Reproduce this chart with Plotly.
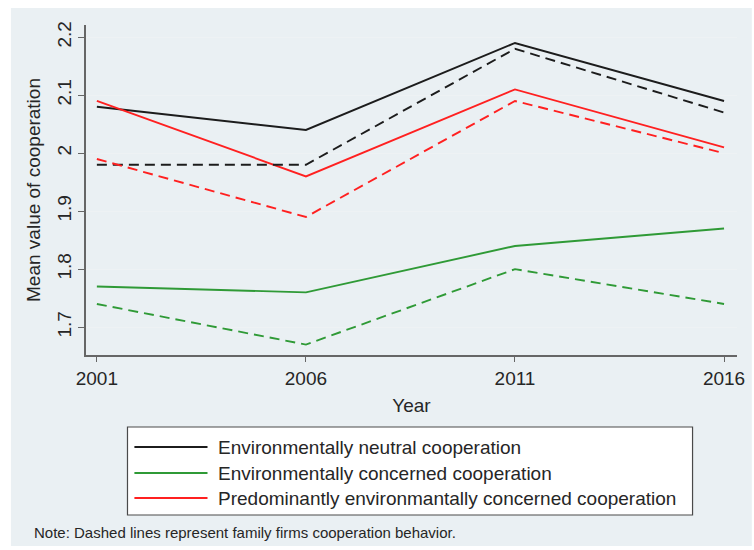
import plotly.graph_objects as go

# Survey waves
years = [2001, 2006, 2011, 2016]

# Mean value of cooperation, all firms (solid) and family firms (dashed)
neutral_all = [2.08, 2.04, 2.19, 2.09]
neutral_family = [1.98, 1.98, 2.18, 2.07]
concerned_all = [1.77, 1.76, 1.84, 1.87]
concerned_family = [1.74, 1.67, 1.80, 1.74]
predominant_all = [2.09, 1.96, 2.11, 2.01]
predominant_family = [1.99, 1.89, 2.09, 2.00]

legend_labels = [
    "Environmentally neutral cooperation",
    "Environmentally concerned cooperation",
    "Predominantly environmantally concerned cooperation",
]
y_ticks = [1.7, 1.8, 1.9, 2.0, 2.1, 2.2]
y_tick_text = ["1.7", "1.8", "1.9", "2", "2.1", "2.2"]

BLACK = "#1c1c1c"
GREEN = "#2f9a36"
RED = "#ff2020"
FONT = "Liberation Sans, Arial, sans-serif"
TXT = "#262626"
DASH = "10px,6px"

W, H = 754, 550
ML, MR, MT, MB = 86, 9, 25, 195
PW, PH = W - ML - MR, H - MT - MB


def px(x):
    return (x - ML) / PW


def py(y):
    return (H - MB - y) / PH


fig = go.Figure()
series = [
    (neutral_all, BLACK, "solid"),
    (concerned_all, GREEN, "solid"),
    (predominant_all, RED, "solid"),
    (neutral_family, BLACK, DASH),
    (concerned_family, GREEN, DASH),
    (predominant_family, RED, DASH),
]
for vals, color, dash in series:
    fig.add_trace(go.Scatter(
        x=years, y=vals, mode="lines", showlegend=False,
        line=dict(color=color, width=1.9, dash=dash),
    ))

shapes = [
    # outer panel
    dict(type="rect", xref="paper", yref="paper", layer="below",
         x0=px(10), x1=px(760), y0=py(546), y1=py(8),
         fillcolor="#eaf0f3", line=dict(width=0)),
    # legend frame
    dict(type="rect", xref="paper", yref="paper",
         x0=px(128), x1=px(700), y0=py(515), y1=py(427),
         fillcolor="white", line=dict(color="#4a4a4a", width=1.2)),
]
annotations = []
legend_colors = [BLACK, GREEN, RED]
rows = [447, 473, 498]
for label, color, ry in zip(legend_labels, legend_colors, rows):
    shapes.append(dict(type="line", xref="paper", yref="paper",
                       x0=px(135), x1=px(209), y0=py(ry), y1=py(ry),
                       line=dict(color=color, width=1.9)))
    annotations.append(dict(xref="paper", yref="paper", x=px(218), y=py(ry),
                            text=label, showarrow=False, xanchor="left",
                            yanchor="middle",
                            font=dict(family=FONT, size=19, color=TXT)))

annotations.append(dict(xref="paper", yref="paper", x=px(31), y=py(532),
                        text="Note: Dashed lines represent family firms cooperation behavior.",
                        showarrow=False, xanchor="left", yanchor="middle",
                        font=dict(family=FONT, size=15, color=TXT)))

fig.update_layout(
    width=W, height=H,
    margin=dict(l=ML, r=MR, t=MT, b=MB),
    paper_bgcolor="white", plot_bgcolor="white",
    font=dict(family=FONT, size=19, color=TXT),
    shapes=shapes, annotations=annotations,
    xaxis=dict(
        range=[2000.74, 2016.31], tickvals=years, ticktext=[str(y) for y in years],
        showgrid=False, zeroline=False,
        showline=True, linecolor="#666", linewidth=1.5,
        ticks="outside", ticklen=5, tickcolor="#666",
        title=dict(text="Year", standoff=11, font=dict(size=19)),
    ),
    yaxis=dict(
        range=[1.652, 2.221], tickvals=y_ticks, ticktext=y_tick_text,
        tickangle=-90,
        showgrid=True, gridcolor="#eef2f4", gridwidth=1.2, zeroline=False,
        showline=True, linecolor="#666", linewidth=1.5,
        ticks="outside", ticklen=6, tickcolor="#666",
        title=dict(text="Mean value of cooperation", standoff=8, font=dict(size=19)),
    ),
)

fig.write_html("out.html")
